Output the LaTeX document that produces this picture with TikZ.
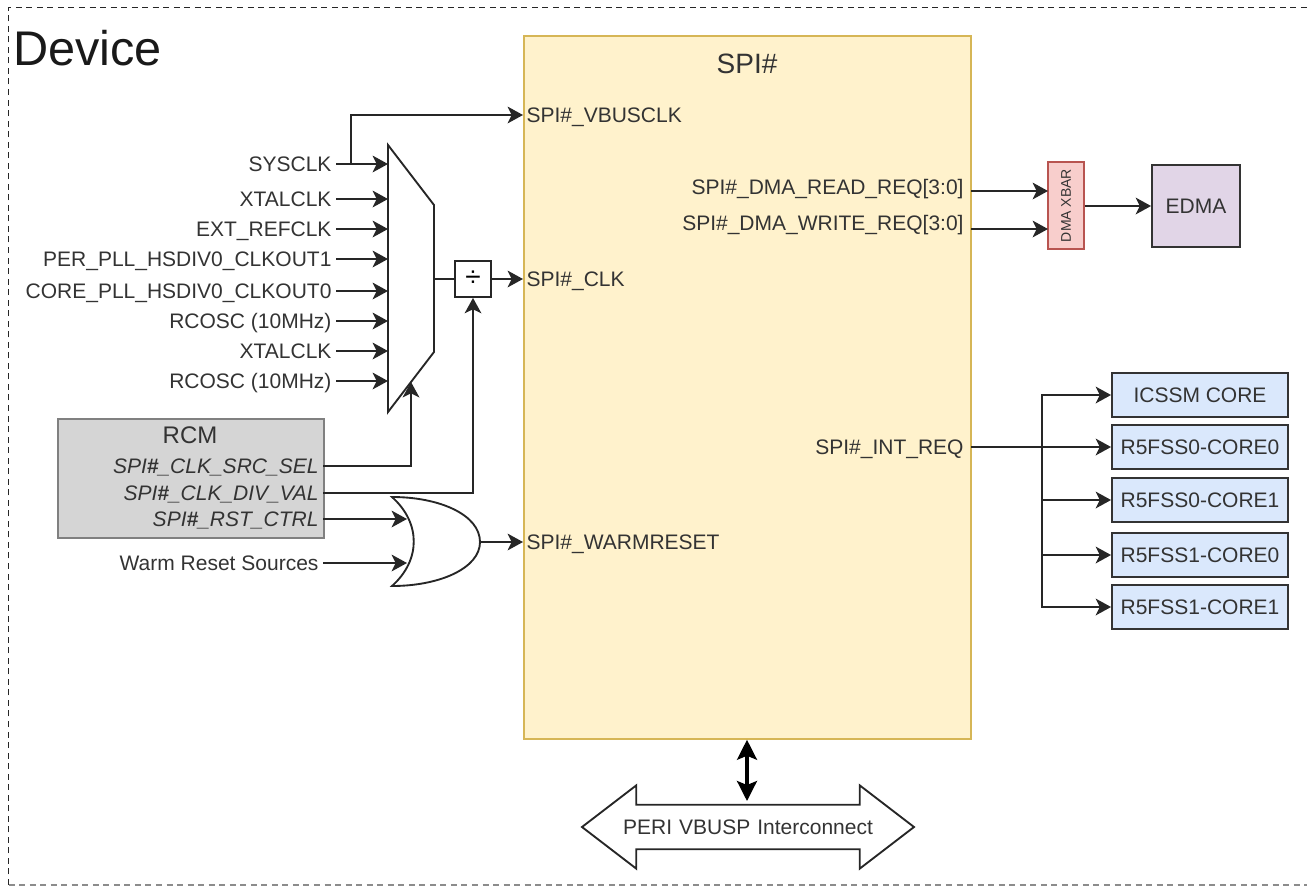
\documentclass[tikz,border=0pt]{standalone}
\usepackage{fontspec}
\setmainfont{Liberation Sans}
\usetikzlibrary{arrows.meta}
\usetikzlibrary{shapes.arrows}
\definecolor{spifill}{HTML}{FFF2CC}
\definecolor{spiline}{HTML}{D6B656}
\definecolor{rcmfill}{HTML}{D5D5D5}
\definecolor{rcmline}{HTML}{808080}
\definecolor{xbarfill}{HTML}{F8CECC}
\definecolor{xbarline}{HTML}{B85450}
\definecolor{edmafill}{HTML}{E1D5E7}
\definecolor{corefill}{HTML}{DAE8FC}
\definecolor{inkgray}{HTML}{333333}
\tikzset{
    sig/.style={text=inkgray, font=\fontsize{15.75}{18}\selectfont, text height=11.3pt, text depth=0pt, inner ysep=0pt},
    sigleft/.style={sig, anchor=east, inner xsep=3.2pt},
    sigright/.style={sig, anchor=west, inner xsep=2.5pt},
    sigend/.style={sig, anchor=east, inner xsep=5.4pt},
    corebox/.style={draw=inkgray, fill=corefill, line width=1.4pt, minimum width=132pt, minimum height=33pt, inner sep=0pt, text=inkgray, font=\fontsize{15.75}{18}\selectfont},
    conn/.style={line width=1.6pt, black!85, -{Stealth[length=11.5pt,width=12.5pt,inset=3pt]}},
    plain/.style={line width=1.6pt, black!85},
    gate/.style={draw=black!85, fill=white, line width=1.4pt, line join=miter},
    border/.style={dash pattern=on 4.5pt off 3.4pt, line width=1.4pt, black!85},
}
\begin{document}
\begin{tikzpicture}[x=0.75pt, y=-0.75pt]
            \useasboundingbox (0,0) rectangle (1307,886);
            \draw[border] (8.5,885) -- (8.5,7.5) -- (1307,7.5);
            \draw[border, line width=1pt, black!45] (8.5,885) -- (1307,885);
            \node[anchor=west, inner sep=0pt, text=black!90, font=\fontsize{36.5}{40}\selectfont] (device) at (13,48) {Device};

            \node[draw=spiline, fill=spifill, line width=1.4pt, minimum width=335.5pt, minimum height=527pt, inner sep=0pt] (spi) at (747.3,387.5) {};
            \node[text=inkgray, font=\fontsize{21}{24}\selectfont] (spititle) at (747,64) {SPI\#};
            \node[sigright] (vbusclk) at (523,115) {SPI\#\_VBUSCLK};
            \node[sigright] (spiclk) at (523,279) {SPI\#\_CLK};
            \node[sigright] (warmreset) at (523,542) {SPI\#\_WARMRESET};
            \node[sigend] (dmaread) at (971,187) {SPI\#\_DMA\_READ\_REQ[3:0]};
            \node[sigend] (dmawrite) at (971,223) {SPI\#\_DMA\_WRITE\_REQ[3:0]};
            \node[sigend] (intreq) at (971,447) {SPI\#\_INT\_REQ};

            \node[sigleft] (sysclk) at (336,164) {SYSCLK};
            \node[sigleft] (xtalA) at (336,199) {XTALCLK};
            \node[sigleft] (extref) at (336,229) {EXT\_REFCLK};
            \node[sigleft] (perpll) at (336,259) {PER\_PLL\_HSDIV0\_CLKOUT1};
            \node[sigleft] (corepll) at (336,291) {CORE\_PLL\_HSDIV0\_CLKOUT0};
            \node[sigleft] (rcoscA) at (336,321) {RCOSC (10MHz)};
            \node[sigleft] (xtalB) at (336,351) {XTALCLK};
            \node[sigleft] (rcoscB) at (336,381) {RCOSC (10MHz)};

            \draw[gate] (388,145) -- (434,205) -- (434,352) -- (388,412) -- cycle;
            \coordinate (muxout) at (434,279);
            \coordinate (muxsel) at (411,382);
            \node[draw=black!85, line width=1.4pt, minimum width=27pt, minimum height=27pt, inner sep=0pt, font=\fontsize{21}{24}\selectfont] (div) at (473,279) {÷};

            \node[draw=rcmline, fill=rcmfill, line width=1.4pt, minimum width=200pt, minimum height=89pt, inner sep=0pt] (rcm) at (191,478.5) {};
            \node[text=inkgray, font=\fontsize{18}{22}\selectfont] (rcmtitle) at (190,435) {RCM};
            \node[sigleft] (srcsel) at (323,466) {\textit{SPI\textbf{\#}\_CLK\_SRC\_SEL}};
            \node[sigleft] (divval) at (323,493) {\textit{SPI\textbf{\#}\_CLK\_DIV\_VAL}};
            \node[sigleft] (rstctrl) at (323,519) {\textit{SPI\textbf{\#}\_RST\_CTRL}};
            \node[sigleft] (warmsrc) at (323,563) {Warm Reset Sources};

            \draw[gate] (392,497) .. controls (440,497) and (480,515) .. (480,542) .. controls (480,568) and (440,586) .. (392,586) .. controls (421,560) and (421,523) .. (392,497) -- cycle;
            \coordinate (orinA) at (407,519);
            \coordinate (orinB) at (407,563);
            \coordinate (orout) at (480,542);

            \node[draw=xbarline, fill=xbarfill, line width=1.4pt, minimum width=27pt, minimum height=65pt, inner sep=0pt] (xbar) at (1066,205.5) {};
            \node[rotate=90, text=inkgray, font=\fontsize{10.5}{12}\selectfont] (xbartext) at (1066,205.5) {DMA XBAR};
            \node[corebox, fill=edmafill, minimum width=66pt, minimum height=61pt] (edma) at (1196,206) {EDMA};

            \node[corebox] (icssm) at (1200,395) {ICSSM CORE};
            \node[corebox] (rfzero) at (1200,447) {R5FSS0-CORE0};
            \node[corebox] (rfone) at (1200,500) {R5FSS0-CORE1};
            \node[corebox] (rftwo) at (1200,555) {R5FSS1-CORE0};
            \node[corebox] (rfthree) at (1200,607) {R5FSS1-CORE1};

            \node[draw=black!85, line width=1.4pt, double arrow, double arrow tip angle=75, double arrow head extend=14.6pt, minimum height=249pt, inner xsep=0pt, inner ysep=10.3pt, text height=11.3pt, text depth=0pt, text width=200pt, align=center, text=inkgray, font=\fontsize{15.75}{18}\selectfont] (peri) at (748,827) {PERI VBUSP Interconnect};

            \draw[conn] (sysclk.east) -- (388,164);
            \draw[conn] (xtalA.east) -- (388,199);
            \draw[conn] (extref.east) -- (388,229);
            \draw[conn] (perpll.east) -- (388,259);
            \draw[conn] (corepll.east) -- (388,291);
            \draw[conn] (rcoscA.east) -- (388,321);
            \draw[conn] (xtalB.east) -- (388,351);
            \draw[conn] (rcoscB.east) -- (388,381);
            \draw[conn] (351,164) -- (351,115) -- (vbusclk.west);
            \draw[plain] (muxout) -- (div.west);
            \draw[conn] (div.east) -- (spiclk.west);
            \draw[conn] (srcsel.east) -| (muxsel);
            \draw[conn] (divval.east) -| (div.south);
            \draw[conn] (rstctrl.east) -- (orinA);
            \draw[conn] (warmsrc.east) -- (orinB);
            \draw[conn] (orout) -- (warmreset.west);
            \draw[conn] (971,191) -- (1048,191);
            \draw[conn] (971,229) -- (1048,229);
            \draw[conn] (xbar.east |- edma.west) -- (edma.west);
            \draw[conn] (971,447) -- (1042,447) |- (icssm.west);
            \draw[conn] (971,447) -- (rfzero.west);
            \draw[conn] (971,447) -- (1042,447) |- (rfone.west);
            \draw[conn] (971,447) -- (1042,447) |- (rftwo.west);
            \draw[conn] (971,447) -- (1042,447) |- (rfthree.west);
            \draw[line width=2.4pt, black, {Stealth[length=15pt,width=15pt,inset=3pt]}-{Stealth[length=15pt,width=15pt,inset=3pt]}] (spi.south -| 747,0) -- (747,801);
        \end{tikzpicture}
\end{document}
